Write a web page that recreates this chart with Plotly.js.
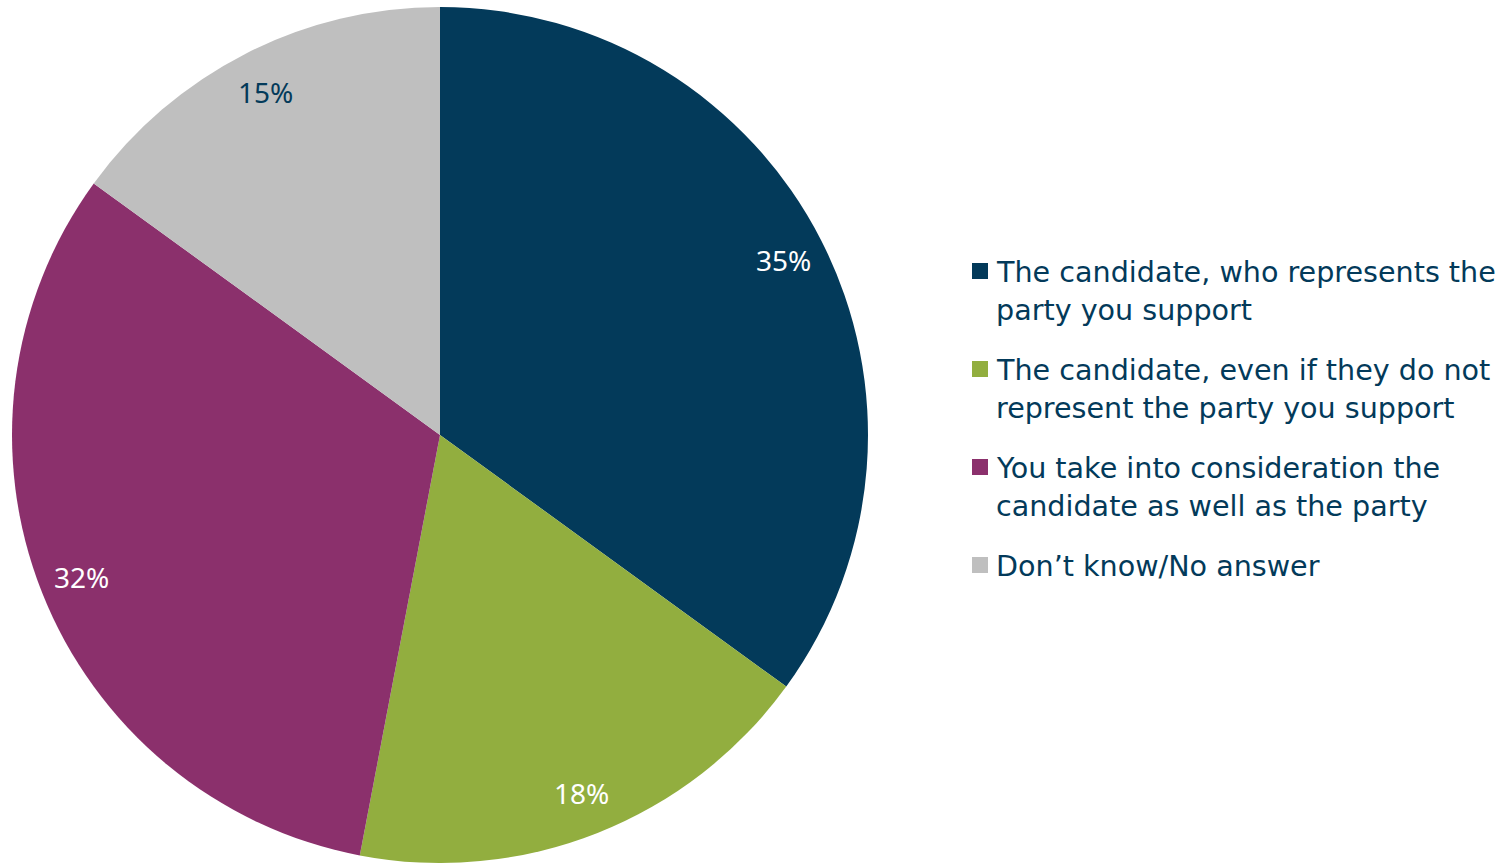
<!DOCTYPE html>
<html>
<head>
<meta charset="utf-8">
<script src="https://cdn.plot.ly/plotly-3.0.1.min.js"></script>
<style>html,body{margin:0;padding:0;background:#fff;}#chart{width:1512px;height:863px;}</style>
</head>
<body>
<div id="chart"></div>
<script>
const categories = [
  "The candidate, who represents the<br>party you support",
  "The candidate, even if they do not<br>represent the party you support",
  "You take into consideration the<br>candidate as well as the party",
  "Don\u2019t know/No answer"
];
const values = [35, 18, 32, 15];
const sliceColors = ["#033A5A", "#92AE3F", "#8B306C", "#BFBFBF"];
const labelColors = ["#FFFFFF", "#FFFFFF", "#FFFFFF", "#033A5A"];

const W = 1512, H = 863;
const LABEL_FONT = "Noto Sans, sans-serif";
const LEGEND_FONT = "DejaVu Sans, sans-serif";
const dom = {x: [12 / W, 868 / W], y: [0, 856 / H]};

// percentage labels along slice mid-angles (clockwise from top)
const total = values.reduce((a, b) => a + b, 0);
const cxp = (dom.x[0] + dom.x[1]) / 2, cyp = (dom.y[0] + dom.y[1]) / 2;
const rx = (dom.x[1] - dom.x[0]) / 2, ry = (dom.y[1] - dom.y[0]) / 2;
let cum = 0;
const annotations = values.map((v, i) => {
  const th = 2 * Math.PI * (cum + v / 2) / total;
  cum += v;
  const f = 0.9;
  return {
    xref: "paper", yref: "paper",
    x: cxp + rx * f * Math.sin(th), y: cyp + ry * f * Math.cos(th),
    text: Math.round(v) + "%", showarrow: false,
    xanchor: "center", yanchor: "middle",
    font: {family: LABEL_FONT, size: 28, color: labelColors[i]}
  };
});

// legend drawn at the right: square swatch + wrapped label lines
const LEG = {sqX0: 972, sqSize: 16, textX: 994, firstY: 272, itemStep: 98, lineStep: 38, fontSize: 28.6};
const shapes = [];
categories.forEach((cat, k) => {
  const yc = LEG.firstY + LEG.itemStep * k;
  shapes.push({
    type: "rect", xref: "paper", yref: "paper",
    x0: LEG.sqX0 / W, x1: (LEG.sqX0 + LEG.sqSize) / W,
    y0: 1 - (yc - 1 + LEG.sqSize / 2) / H, y1: 1 - (yc - 1 - LEG.sqSize / 2) / H,
    fillcolor: sliceColors[k], line: {width: 0}
  });
  cat.split("<br>").forEach((line, j) => {
    annotations.push({
      xref: "paper", yref: "paper",
      x: LEG.textX / W, y: 1 - (yc + LEG.lineStep * j) / H,
      xanchor: "left", yanchor: "middle",
      text: line, showarrow: false,
      font: {family: LEGEND_FONT, size: LEG.fontSize, color: "#033A5A"}
    });
  });
});

const trace = {
  type: "pie",
  labels: categories.map(c => c.replace("<br>", " ")),
  values: values,
  sort: false,
  direction: "clockwise",
  rotation: 0,
  marker: {colors: sliceColors, line: {width: 0}},
  textinfo: "none",
  hoverinfo: "label+percent",
  domain: dom,
  showlegend: false
};

const layout = {
  width: W, height: H,
  margin: {l: 0, r: 0, t: 0, b: 0},
  paper_bgcolor: "#FFFFFF",
  showlegend: false,
  annotations: annotations,
  shapes: shapes
};

Plotly.newPlot("chart", [trace], layout, {displayModeBar: false, staticPlot: true});
</script>
</body>
</html>
